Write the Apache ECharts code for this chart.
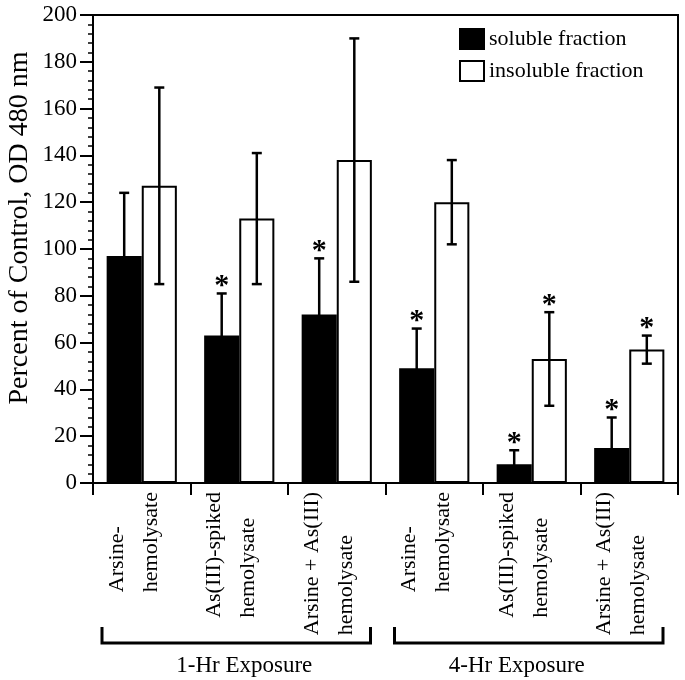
<!DOCTYPE html>
<html><head><meta charset="utf-8">
<script src="https://cdn.jsdelivr.net/npm/echarts@6/dist/echarts.min.js"></script>
<style>html,body{margin:0;padding:0;background:#fff}#c{width:685px;height:680px}</style>
</head><body><div id="c"></div>
<script>
const categories = ['Arsine-\nhemolysate', 'As(III)-spiked\nhemolysate', 'Arsine + As(III)\nhemolysate',
                    'Arsine-\nhemolysate', 'As(III)-spiked\nhemolysate', 'Arsine + As(III)\nhemolysate'];
const seriesNames = ['soluble fraction', 'insoluble fraction'];
const solubleMean = [97, 63, 72, 49, 8, 15];
const solubleErr = [27, 18, 24, 17, 6, 13];
const solubleSig = [0, 1, 1, 1, 1, 1];
const insolubleMean = [127, 113, 138, 120, 53, 57];
const insolubleErr = [42, 28, 52, 18, 20, 6];
const insolubleSig = [0, 0, 0, 0, 1, 1];
const yMin = 0, yMax = 200, yInterval = 20;
const groups = [{name: '1-Hr Exposure', from: 0, to: 2}, {name: '4-Hr Exposure', from: 3, to: 5}];
const yTitle = 'Percent of Control, OD 480 nm';

const FONT = 'Liberation Serif';
const BARW = 0.36;

function errSeries(name, means, errs, sigs, side) {
  return {
    type: 'custom', name: name, z: 5,
    data: means.map((m, i) => [i, m, errs[i], sigs[i]]),
    encode: {x: 0, y: 1},
    renderItem: function (params, api) {
      const i = api.value(0), m = api.value(1), e = api.value(2), s = api.value(3);
      const bw = api.size([1, 0])[0] * BARW;
      const dx = side * bw / 2;
      const top = api.coord([i, m + e]);
      const bot = api.coord([i, m - e]);
      const x = top[0] + dx;
      const cw = 5;
      const st = {stroke: '#000', lineWidth: 2.5};
      const ch = [
        {type: 'line', shape: {x1: x, y1: top[1], x2: x, y2: bot[1]}, style: st},
        {type: 'line', shape: {x1: x - cw, y1: top[1], x2: x + cw, y2: top[1]}, style: st},
        {type: 'line', shape: {x1: x - cw, y1: bot[1], x2: x + cw, y2: bot[1]}, style: st}
      ];
      if (s) {
        ch.push({type: 'text', style: {text: '*', x: x, y: top[1] - 22, align: 'center', verticalAlign: 'top',
          font: 'bold 30px ' + FONT, fill: '#000'}});
      }
      return {type: 'group', children: ch};
    }
  };
}

const chart = echarts.init(document.getElementById('c'));
chart.setOption({
  animation: false,
  backgroundColor: '#fff',
  textStyle: {fontFamily: FONT},
  grid: {left: 93, right: 7, top: 15, bottom: 197, show: true, borderColor: '#000', borderWidth: 2, backgroundColor: 'transparent'},
  legend: {
    data: seriesNames, orient: 'vertical', left: 454, top: 23, itemWidth: 24, itemHeight: 20, itemGap: 10,
    textStyle: {fontFamily: FONT, fontSize: 22, color: '#000'}, icon: 'rect'
  },
  xAxis: {
    type: 'category', data: categories,
    axisLine: {lineStyle: {color: '#000', width: 2}},
    axisTick: {show: true, length: 12, lineStyle: {color: '#000', width: 2}},
    axisLabel: {
      interval: 0, rotate: 90, margin: 9, color: '#000',
      padding: [0, 0, 16, 0],
      formatter: v => v.split('\n').map(l => '{l|' + l + '}').join('\n'),
      rich: {l: {fontFamily: FONT, fontSize: 22, lineHeight: 34, align: 'left', color: '#000'}}
    }
  },
  yAxis: {
    type: 'value', min: yMin, max: yMax, interval: yInterval,
    axisLine: {show: true, lineStyle: {color: '#000', width: 2}},
    axisTick: {show: true, length: 13, lineStyle: {color: '#000', width: 2}},
    minorTick: {show: true, splitNumber: 5, length: 5, lineStyle: {color: '#000', width: 1.5}},
    splitLine: {show: false},
    axisLabel: {fontFamily: FONT, fontSize: 23, color: '#000', margin: 16}
  },
  series: [
    {type: 'bar', name: seriesNames[0], data: solubleMean, barWidth: (BARW * 100) + '%', barGap: '0%',
     itemStyle: {color: '#000', borderColor: '#000', borderWidth: 2}},
    {type: 'bar', name: seriesNames[1], data: insolubleMean, barWidth: (BARW * 100) + '%', barGap: '0%',
     itemStyle: {color: '#fff', borderColor: '#000', borderWidth: 2}},
    errSeries('soluble err', solubleMean, solubleErr, solubleSig, -1),
    errSeries('insoluble err', insolubleMean, insolubleErr, insolubleSig, 1)
  ]
});

// group brackets and labels
const p0 = chart.convertToPixel({xAxisIndex: 0}, 0);
const p1 = chart.convertToPixel({xAxisIndex: 0}, 1);
const band = p1 - p0;
const gfx = [];
const offsets = [8, -12];
groups.forEach((g, k) => {
  const x1 = chart.convertToPixel({xAxisIndex: 0}, g.from) - band / 2 + 9;
  const x2 = chart.convertToPixel({xAxisIndex: 0}, g.to) + band / 2 - 15;
  gfx.push({type: 'polyline', shape: {points: [[x1, 627], [x1, 643], [x2, 643], [x2, 627]]},
    style: {stroke: '#000', lineWidth: 3, fill: null}});
  gfx.push({type: 'text', x: (x1 + x2) / 2 + offsets[k], y: 666,
    style: {text: g.name, font: '23px ' + FONT, fill: '#000', align: 'center', verticalAlign: 'middle'}});
});
gfx.push({type: 'text', x: 20, y: 228, rotation: Math.PI / 2,
  style: {text: yTitle, font: '28px ' + FONT, fill: '#000', align: 'center', verticalAlign: 'middle'}});
chart.setOption({graphic: gfx});
</script>
</body></html>
